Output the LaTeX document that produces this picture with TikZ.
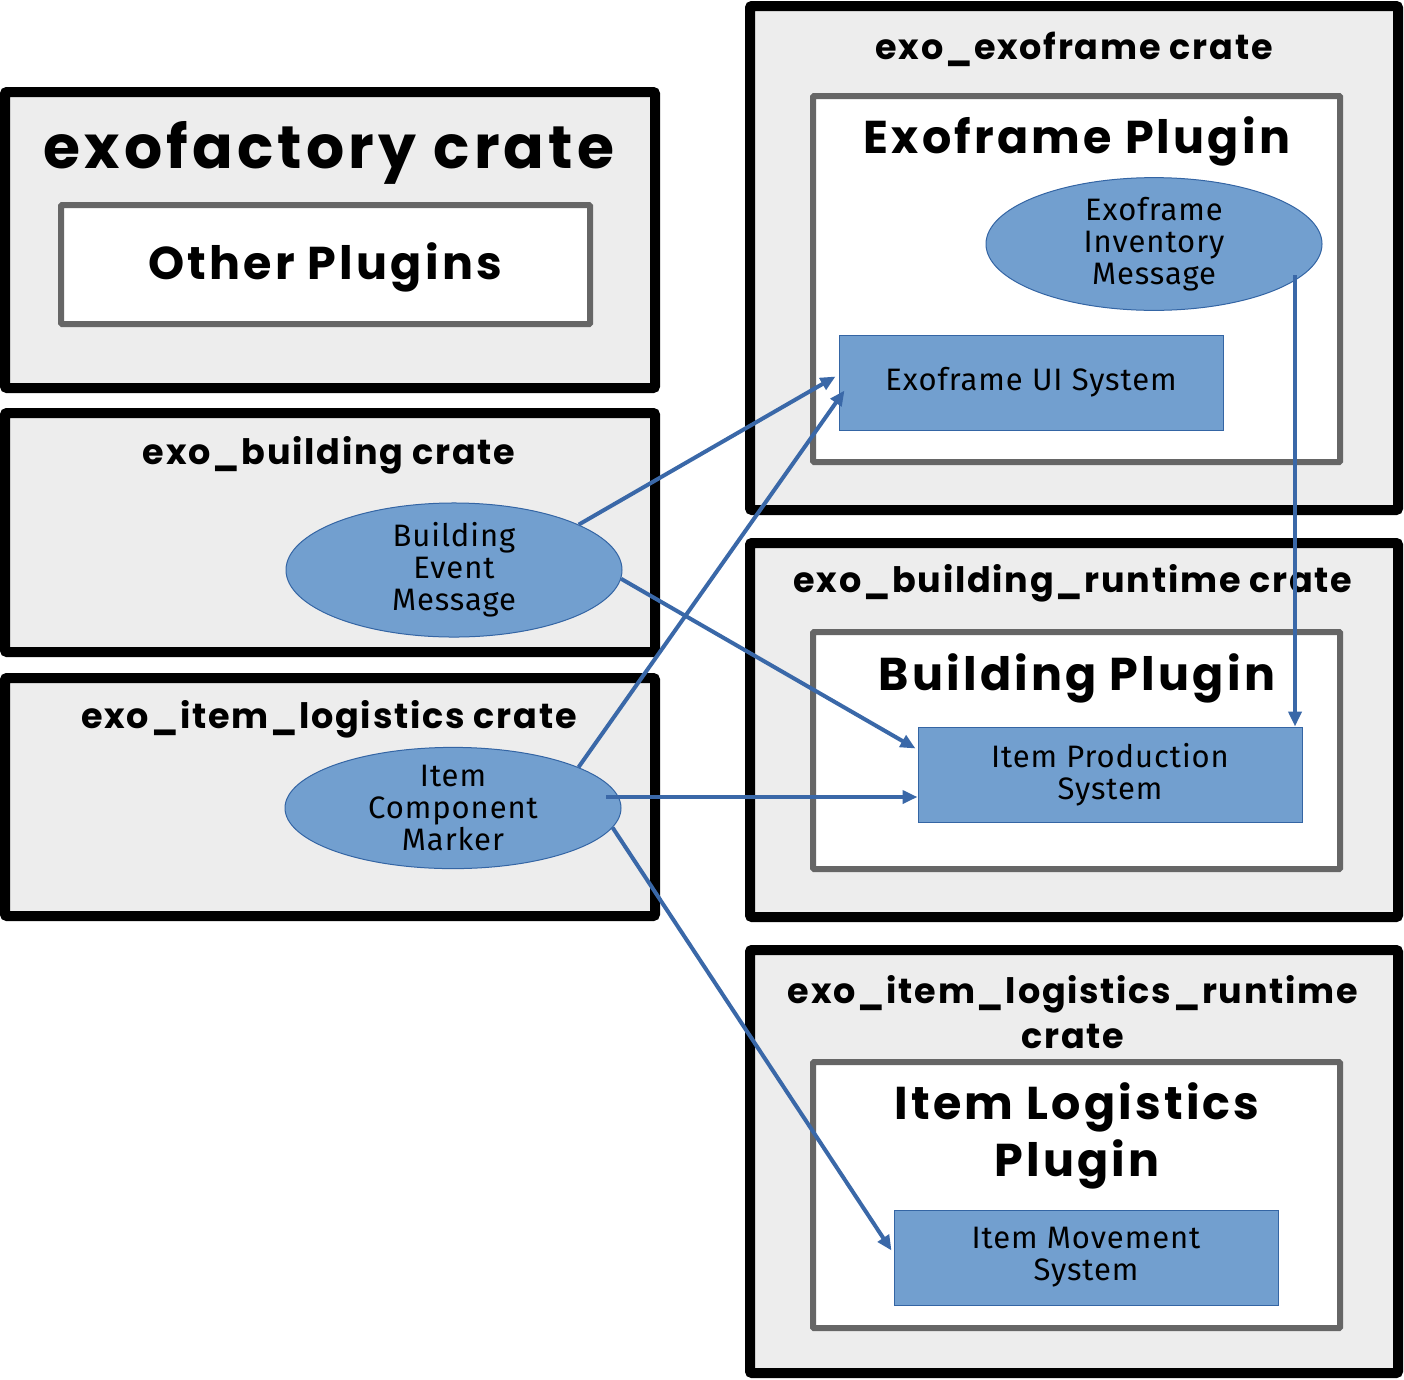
\documentclass[tikz,border=0pt]{standalone}
\usepackage{fontspec}
\setmainfont{Poppins}
\newfontfamily\bodyfont{Fira Sans}
\usetikzlibrary{shapes.geometric,arrows.meta,calc}
\definecolor{cratefill}{HTML}{EDEDED}
\definecolor{plugdraw}{HTML}{666666}
\definecolor{bluefill}{HTML}{729FCF}
\definecolor{bluedraw}{HTML}{3465A4}
\definecolor{arrowcol}{HTML}{3A68A8}
\tikzset{
  crate/.style={draw=black, line width=10pt, fill=cratefill, rectangle, inner sep=0pt, rounded corners=2pt},
  plugin/.style={draw=plugdraw, line width=6pt, fill=white, rectangle, inner sep=0pt, rounded corners=1pt},
  msg/.style={ellipse, draw=bluedraw, line width=1pt, fill=bluefill, minimum width=336pt, minimum height=120pt, inner sep=0pt, align=center, font=\bodyfont\addfontfeature{LetterSpace=3}\fontsize{31}{32}\selectfont},
  sysbox/.style={rectangle, draw=bluedraw, line width=1pt, fill=bluefill, minimum width=384pt, minimum height=95pt, inner sep=0pt, align=center, font=\bodyfont\addfontfeature{LetterSpace=3}\fontsize{31}{32}\selectfont},
  bigtitle/.style={font=\bfseries\addfontfeature{LetterSpace=7}\fontsize{60}{64}\selectfont, inner sep=0pt},
  plugtitle/.style={font=\bfseries\addfontfeature{LetterSpace=7}\fontsize{46}{57}\selectfont, inner sep=0pt, align=center},
  cratetitle/.style={font=\bfseries\addfontfeature{LetterSpace=5}\fontsize{35}{45}\selectfont, inner sep=0pt, align=center},
  conn/.style={draw=arrowcol, line width=4pt, -{Triangle[length=15pt,width=13pt]}}
}
\begin{document}
\begin{tikzpicture}[x=1pt,y=-1pt]
\useasboundingbox (0,0) rectangle (1404,1379);
% left crates
\node[crate, minimum width=650pt, minimum height=296pt] (fac) at (330,240) {};
\node[plugin, minimum width=529pt, minimum height=119pt] (other) at (325.5,264.5) {};
\node[bigtitle] (factitle) at (329,153) {exofactory crate};
\node[plugtitle] (othertitle) at (325,267) {Other Plugins};

\node[crate, minimum width=650pt, minimum height=239pt] (bld) at (330,532.5) {};
\node[cratetitle] (bldtitle) at (329,455) {exo\_building crate};

\node[crate, minimum width=650pt, minimum height=238pt] (ilog) at (330,797) {};
\node[cratetitle] (ilogtitle) at (329,719) {exo\_item\_logistics crate};

% right crates
\node[crate, minimum width=648pt, minimum height=504pt] (exf) at (1074,258) {};
\node[cratetitle] (exftitle) at (1074,49) {exo\_exoframe crate};
\node[plugin, minimum width=527pt, minimum height=366pt] (exfplug) at (1076.5,279) {};
\node[plugtitle] (exfplugtitle) at (1077,141) {Exoframe Plugin};

\node[crate, minimum width=648pt, minimum height=374pt] (bldrt) at (1074,730) {};
\node[cratetitle] (bldrttitle) at (1073,583) {exo\_building\_runtime crate};
\node[plugin, minimum width=527pt, minimum height=237pt] (bldplug) at (1076.5,750.5) {};
\node[plugtitle] (bldplugtitle) at (1077,678) {Building Plugin};

\node[crate, minimum width=648pt, minimum height=423pt] (ilrt) at (1074,1161.5) {};
\node[cratetitle] (ilrttitle) at (1073,1012) {exo\_item\_logistics\_runtime\\crate};
\node[plugin, minimum width=527pt, minimum height=266pt] (ilplug) at (1076.5,1195) {};
\node[plugtitle] (ilplugtitle) at (1077,1136) {Item Logistics\\Plugin};

% messages and systems
\node[msg] (eim) at (1154,244) {Exoframe\\Inventory\\Message};
\node[sysbox] (uisys) at (1031,382.5) {Exoframe UI System};
\node[msg] (bem) at (454,570) {Building\\Event\\Message};
\node[msg] (icm) at (453,808) {Item\\Component\\Marker};
\node[sysbox] (ipsys) at (1110,774.5) {Item Production\\System};
\node[sysbox] (imsys) at (1086,1257.5) {Item Movement\\System};

% connectors
\coordinate (eimout) at ([xshift=141pt,yshift=-31pt]eim.center);
\coordinate (icmout) at ([xshift=153pt,yshift=11pt]icm.center);
\draw[conn] (bem.20) -- ([xshift=-3pt,yshift=6pt]uisys.west);
\draw[conn] (icm.18) -- ([xshift=6pt,yshift=-8pt]uisys.west);
\draw[conn] (bem.-3) -- ([xshift=-2pt,yshift=26pt]ipsys.west);
\draw[conn] (icmout) -- (icmout -| ipsys.west);
\draw[conn] (icm.-7) -- ([xshift=-2pt,yshift=7pt]imsys.west);
\draw[conn] (eimout) -- (eimout |- ipsys.north);
\end{tikzpicture}
\end{document}
